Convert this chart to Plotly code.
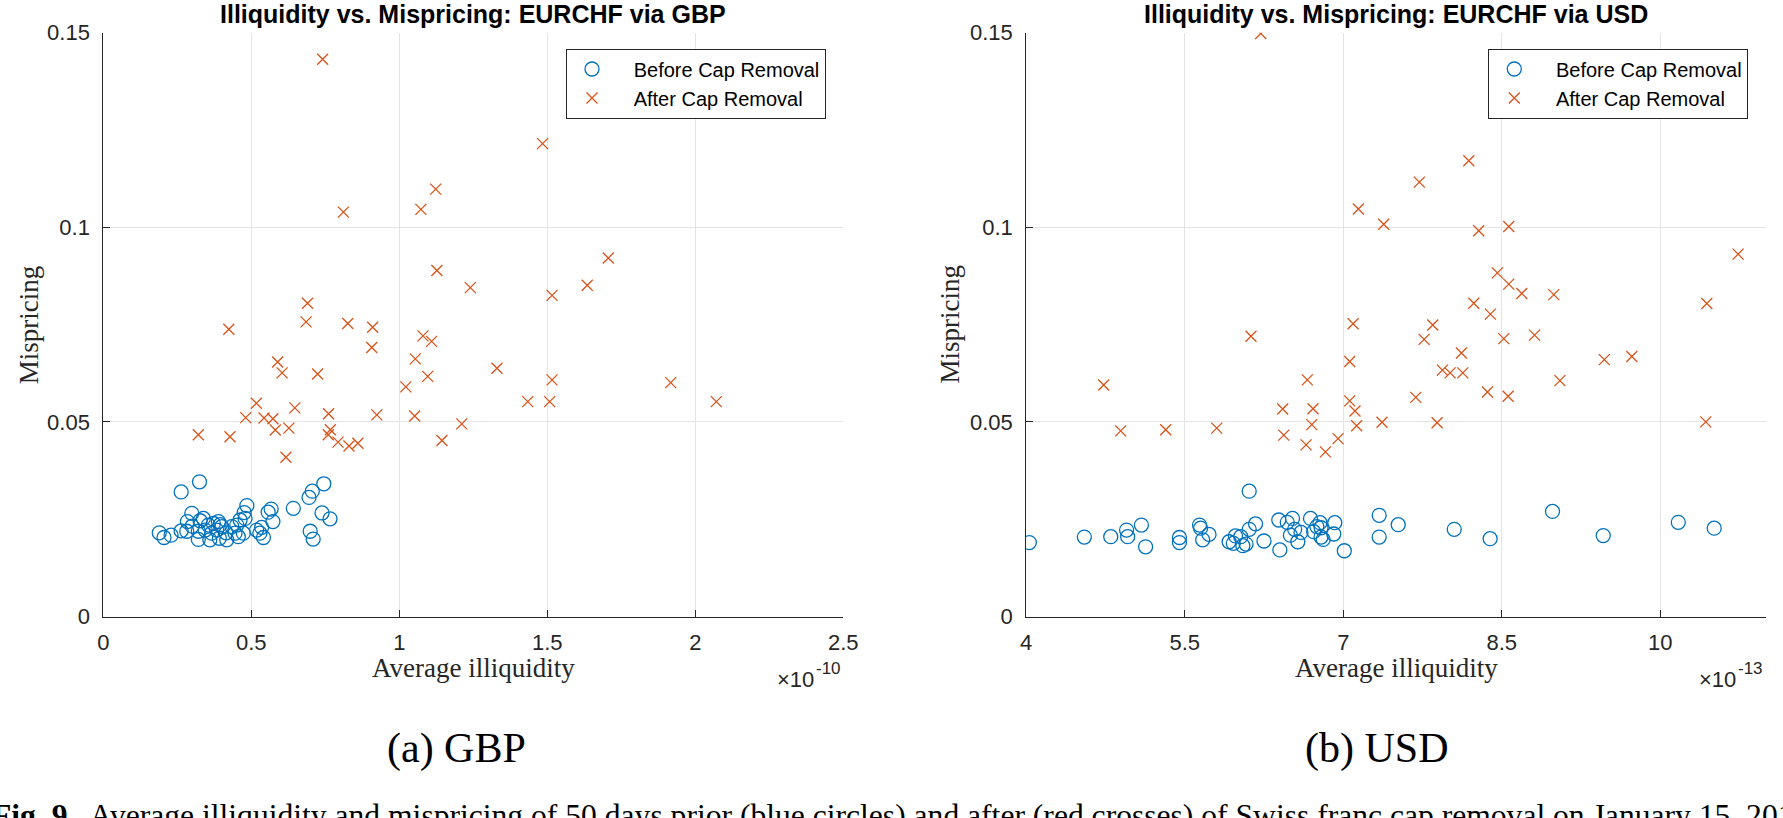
import numpy as np
import plotly.graph_objects as go

W, H = 1783, 818

# ---------------- data ----------------
# GBP panel, x in units of 1e-10
gbp_before_x = [0.263, 0.325, 0.745, 0.706, 0.695, 0.642, 0.739, 0.766, 0.699, 0.709,
                0.485, 0.476, 0.567, 0.557, 0.573, 0.299, 0.338, 0.284, 0.327, 0.189,
                0.205, 0.229, 0.263, 0.282, 0.321, 0.321, 0.360, 0.372, 0.389, 0.400,
                0.383, 0.366, 0.392, 0.417, 0.434, 0.451, 0.462, 0.479, 0.456, 0.473,
                0.518, 0.535, 0.541, 0.529, 0.344, 0.355, 0.415, 0.445, 0.395, 0.300]
gbp_before_y = [0.0320, 0.0346, 0.0341, 0.0322, 0.0306, 0.0278, 0.0266, 0.0251, 0.0219, 0.0199,
                0.0285, 0.0267, 0.0276, 0.0268, 0.0244, 0.0265, 0.0252, 0.0244, 0.0246, 0.0215,
                0.0203, 0.0209, 0.0220, 0.0219, 0.0198, 0.0219, 0.0197, 0.0239, 0.0244, 0.0231,
                0.0222, 0.0214, 0.0201, 0.0197, 0.0231, 0.0235, 0.0248, 0.0252, 0.0205, 0.0214,
                0.0222, 0.0229, 0.0203, 0.0214, 0.0222, 0.0235, 0.0215, 0.0214, 0.0236, 0.0232]
gbp_after_x = [0.741, 1.484, 1.123, 1.073, 0.811, 1.127, 1.240, 1.516, 1.635, 1.706,
               0.690, 0.685, 0.826, 0.910, 0.424, 0.907, 1.080, 1.109, 1.054, 0.589,
               0.604, 0.724, 1.096, 1.330, 1.516, 1.434, 1.508, 1.022, 0.517, 0.647,
               0.481, 0.543, 0.573, 0.761, 0.924, 1.052, 1.211, 0.321, 0.428, 0.581,
               0.627, 0.767, 0.760, 0.793, 0.830, 0.860, 1.144, 0.617, 1.917, 2.071]
gbp_after_y = [0.1432, 0.1215, 0.1098, 0.1046, 0.1039, 0.0889, 0.0845, 0.0825, 0.0851, 0.0921,
               0.0805, 0.0757, 0.0753, 0.0743, 0.0738, 0.0691, 0.0721, 0.0707, 0.0662, 0.0654,
               0.0626, 0.0623, 0.0617, 0.0638, 0.0608, 0.0552, 0.0552, 0.0590, 0.0548, 0.0536,
               0.0511, 0.0510, 0.0508, 0.0521, 0.0518, 0.0515, 0.0495, 0.0467, 0.0462, 0.0479,
               0.0484, 0.0480, 0.0467, 0.0448, 0.0438, 0.0445, 0.0452, 0.0409, 0.0601, 0.0552]

# USD panel, x in units of 1e-13
usd_before_x = [4.03, 4.55, 4.80, 4.95, 4.96, 5.09, 5.13, 5.45, 5.45, 5.64,
                5.65, 5.67, 5.73, 5.92, 5.96, 5.98, 6.03, 6.05, 6.08, 6.11,
                6.11, 6.17, 6.25, 6.39, 6.40, 6.47, 6.52, 6.54, 6.50, 6.57,
                6.60, 6.69, 6.72, 6.75, 6.78, 6.79, 6.79, 6.81, 6.92, 6.91,
                7.01, 7.34, 7.34, 7.52, 8.05, 8.39, 8.98, 9.46, 10.17, 10.51]
usd_before_y = [0.0190, 0.0204, 0.0205, 0.0222, 0.0205, 0.0235, 0.0179, 0.0203, 0.0190, 0.0235,
                0.0227, 0.0197, 0.0211, 0.0192, 0.0188, 0.0207, 0.0205, 0.0182, 0.0186, 0.0322,
                0.0224, 0.0238, 0.0194, 0.0248, 0.0171, 0.0242, 0.0252, 0.0224, 0.0209, 0.0192,
                0.0216, 0.0252, 0.0218, 0.0231, 0.0241, 0.0228, 0.0204, 0.0198, 0.0241, 0.0212,
                0.0169, 0.0260, 0.0204, 0.0236, 0.0224, 0.0200, 0.0270, 0.0208, 0.0242, 0.0227]
usd_after_x = [6.219, 8.188, 7.720, 7.143, 7.383, 8.282, 8.566, 8.458, 8.566, 8.689,
               8.235, 8.392, 7.093, 7.847, 8.992, 10.440, 10.736, 6.127, 7.765, 8.519,
               7.061, 8.118, 6.660, 7.938, 8.011, 8.131, 8.364, 8.560, 7.686, 4.733,
               6.427, 6.714, 7.061, 7.111, 6.702, 7.127, 7.367, 7.888, 4.894, 5.320,
               5.803, 6.437, 6.648, 6.831, 6.951, 10.430, 9.470, 9.730, 9.050, 8.810]
usd_after_y = [0.1498, 0.1171, 0.1116, 0.1047, 0.1008, 0.0991, 0.1002, 0.0883, 0.0854, 0.0830,
               0.0805, 0.0777, 0.0752, 0.0749, 0.0827, 0.0804, 0.0931, 0.0720, 0.0712, 0.0714,
               0.0655, 0.0677, 0.0608, 0.0633, 0.0626, 0.0626, 0.0577, 0.0566, 0.0563, 0.0595,
               0.0533, 0.0534, 0.0554, 0.0528, 0.0493, 0.0490, 0.0499, 0.0498, 0.0477, 0.0480,
               0.0484, 0.0466, 0.0441, 0.0423, 0.0457, 0.0500, 0.0660, 0.0668, 0.0606, 0.0723]

gbp_scale = 1e-10
usd_scale = 1e-13
gbp_xticks = [0, 0.5, 1, 1.5, 2, 2.5]
gbp_xlabels = ["0", "0.5", "1", "1.5", "2", "2.5"]
usd_xticks = [4, 5.5, 7, 8.5, 10]
usd_xlabels = ["4", "5.5", "7", "8.5", "10"]
y_ticks = [0, 0.05, 0.1, 0.15]
y_labels = ["0", "0.05", "0.1", "0.15"]
exponents = ["-10", "-13"]

titles = ["Illiquidity vs. Mispricing: EURCHF via GBP", "Illiquidity vs. Mispricing: EURCHF via USD"]
subcaptions = ["(a) GBP", "(b) USD"]
legend_names = ["Before Cap Removal", "After Cap Removal"]
caption = ("<b>Fig. 9.</b>  Average illiquidity and mispricing of 50 days prior (blue circles) "
           "and after (red crosses) of Swiss franc cap removal on January 15, 2015")

# ---------------- layout helpers ----------------
BLUE = "#0072BD"
ORANGE = "#D95319"
AX = "#262626"
GRID = "#e4e4e4"
SANS = "Liberation Sans, Arial, Helvetica, sans-serif"
SERIF = "Liberation Serif, Times New Roman, serif"
PAD = "\u00a0\u00a0\u00a0"


def fx(px):
    return px / W


def fy(py):
    return 1 - py / H


L_X0, L_X1 = 103.3, 843.3
R_X0, R_X1 = 1026.2, 1766.0
Y_TOP, Y_BOT = 32.7, 616.5

fig = go.Figure()

panels = [
    dict(bx=gbp_before_x, by=gbp_before_y, ax=gbp_after_x, ay=gbp_after_y, s=gbp_scale,
         legend="legend", xa="x", ya="y"),
    dict(bx=usd_before_x, by=usd_before_y, ax=usd_after_x, ay=usd_after_y, s=usd_scale,
         legend="legend2", xa="x2", ya="y2"),
]
for p in panels:
    fig.add_trace(go.Scatter(
        x=np.array(p["bx"]) * p["s"], y=p["by"], mode="markers", name=PAD + legend_names[0],
        marker=dict(symbol="circle-open", size=14, color=BLUE, line=dict(color=BLUE, width=1.3)),
        xaxis=p["xa"], yaxis=p["ya"], legend=p["legend"]))
    fig.add_trace(go.Scatter(
        x=np.array(p["ax"]) * p["s"], y=p["ay"], mode="markers", name=PAD + legend_names[1],
        marker=dict(symbol="x-thin-open", size=11, color=ORANGE, line=dict(color=ORANGE, width=1.3)),
        xaxis=p["xa"], yaxis=p["ya"], legend=p["legend"]))


def xaxis_cfg(x0, x1, rng, ticks, labels, scale, anchor):
    return dict(domain=[fx(x0), fx(x1)], range=[rng[0] * scale, rng[1] * scale],
                tickmode="array", tickvals=[t * scale for t in ticks], ticktext=labels,
                ticks="inside", ticklen=7, tickwidth=1, tickcolor=AX,
                showline=True, linecolor=AX, linewidth=1, mirror=False,
                showgrid=True, gridcolor=GRID, gridwidth=1, zeroline=False,
                tickfont=dict(family=SANS, size=22, color=AX), anchor=anchor,
                ticklabelstandoff=6, automargin=False)


def yaxis_cfg(anchor):
    return dict(domain=[fy(Y_BOT), fy(Y_TOP)], range=[0, 0.15],
                tickmode="array", tickvals=y_ticks, ticktext=y_labels,
                ticks="inside", ticklen=7, tickwidth=1, tickcolor=AX,
                showline=True, linecolor=AX, linewidth=1, mirror=False,
                showgrid=True, gridcolor=GRID, gridwidth=1, zeroline=False,
                tickfont=dict(family=SANS, size=22, color=AX), anchor=anchor,
                ticklabelstandoff=8, automargin=False)


legend_common = dict(xanchor="right", yanchor="top", bgcolor="white", bordercolor=AX, borderwidth=1,
                     font=dict(family=SANS, size=20, color="black"), tracegroupgap=0,
                     itemwidth=40)

fig.update_layout(
    template="none",
    width=W, height=H, margin=dict(l=0, r=0, t=0, b=0, pad=0, autoexpand=False),
    paper_bgcolor="white", plot_bgcolor="white", showlegend=True,
    xaxis=xaxis_cfg(L_X0, L_X1, (0, 2.5), gbp_xticks, gbp_xlabels, gbp_scale, "y"),
    yaxis=yaxis_cfg("x"),
    xaxis2=xaxis_cfg(R_X0, R_X1, (4, 11), usd_xticks, usd_xlabels, usd_scale, "y2"),
    yaxis2=yaxis_cfg("x2"),
    legend=dict(x=fx(826), y=fy(48.5), **legend_common),
    legend2=dict(x=fx(1748.3), y=fy(48.5), **legend_common),
)

ann = []
for i, (x0, x1) in enumerate([(L_X0, L_X1), (R_X0, R_X1)]):
    cx = (x0 + x1) / 2
    split = [814.7, 1736.6][i]
    ann.append(dict(text="<b>%s</b>" % titles[i], x=fx(cx), y=fy(14), xanchor="center", yanchor="middle",
                    font=dict(family=SANS, size=25, color="black")))
    ann.append(dict(text="Average illiquidity", x=fx(cx), y=fy(668), xanchor="center", yanchor="middle",
                    font=dict(family=SERIF, size=27, color=AX)))
    ann.append(dict(text="×10", x=fx(split + 1), y=fy(679), xanchor="right", yanchor="middle",
                    font=dict(family=SANS, size=22, color=AX)))
    ann.append(dict(text=exponents[i], x=fx(split - 1), y=fy(668), xanchor="left", yanchor="middle",
                    font=dict(family=SANS, size=17, color=AX)))
    ann.append(dict(text=subcaptions[i], x=fx([456, 1377][i]), y=fy(748), xanchor="center",
                    yanchor="middle", font=dict(family=SERIF, size=42, color="black")))
    ann.append(dict(text="Mispricing", x=fx([28.7, 950][i]), y=fy((Y_TOP + Y_BOT) / 2), textangle=-90,
                    xanchor="center", yanchor="middle", font=dict(family=SERIF, size=27, color=AX)))
ann.append(dict(text=caption, x=fx(-10), y=fy(796), xanchor="left", yanchor="top",
                font=dict(family=SERIF, size=31.6, color="black")))
for a in ann:
    a.update(xref="paper", yref="paper", showarrow=False)
fig.update_layout(annotations=ann)

fig.write_html("out.html")
